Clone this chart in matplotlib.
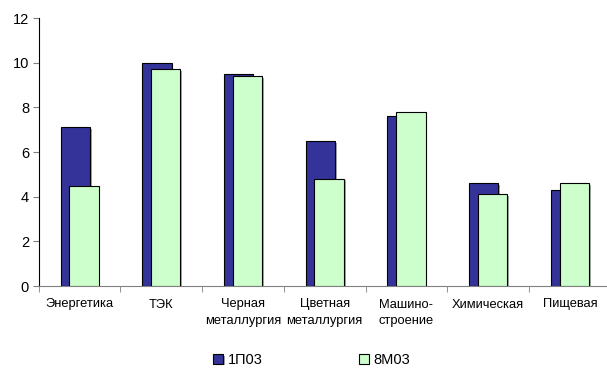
import matplotlib
matplotlib.use("Agg")
import matplotlib.pyplot as plt
import matplotlib.patheffects as pe
import numpy as np

categories = ["Энергетика", "ТЭК", "Черная\nметаллургия", "Цветная\nметаллургия",
              "Машино-\nстроение", "Химическая", "Пищевая"]
series1_name = "1П03"
series1 = [7.1, 10.0, 9.5, 6.5, 7.6, 4.6, 4.3]
series2_name = "8М03"
series2 = [4.5, 9.7, 9.4, 4.8, 7.8, 4.1, 4.6]
yticks = [0, 2, 4, 6, 8, 10, 12]

plt.rcParams['font.family'] = ['Liberation Sans', 'DejaVu Sans']

fig = plt.figure(figsize=(6.07, 3.68), dpi=100)
cat_w = 81.7
ax = fig.add_axes([38.8/607, 1-286/368, 7*cat_w/607, (286-18)/368])

x = np.arange(len(categories))
w = 0.36
off = 0.054
shadow = [pe.SimplePatchShadow(offset=(1.2, -1.2), shadow_rgbFace='#808080', alpha=0.7), pe.Normal()]
b1 = ax.bar(x - off, series1, w, color='#333399', edgecolor='black', linewidth=0.8,
            label=series1_name, zorder=2)
b2 = ax.bar(x + off, series2, w, color='#CCFFCC', edgecolor='black', linewidth=0.8,
            label=series2_name, zorder=3)
for p in list(b1) + list(b2):
    p.set_path_effects(shadow)

ax.set_xlim(-0.5, len(categories) - 0.5)
ax.set_ylim(0, 12)
ax.set_yticks(yticks)
ax.set_yticklabels([str(v) for v in yticks], fontsize=10.5)
ax.set_xticks(x)
ax.set_xticklabels(categories, fontsize=9.3, linespacing=1.45)
ax.tick_params(axis='x', length=0, pad=9)
ax.set_xticks(np.arange(-0.5, len(categories)), minor=True)
ax.tick_params(axis='x', which='minor', length=4, color='#808080', direction='out')
ax.tick_params(axis='y', length=4, direction='out', color='#808080', pad=3)

ax.spines['top'].set_visible(False)
ax.spines['right'].set_visible(False)
ax.spines['bottom'].set_color('#808080')
ax.spines['left'].set_color('black')

fig.legend(handles=[b1, b2], labels=[series1_name, series2_name], loc='center',
           bbox_to_anchor=(312/607, 1-360/368), ncol=2, frameon=False,
           handlelength=0.65, handleheight=0.65, handletextpad=0.35, columnspacing=6.6,
           fontsize=10.5)

fig.savefig("out.png", dpi=100)
